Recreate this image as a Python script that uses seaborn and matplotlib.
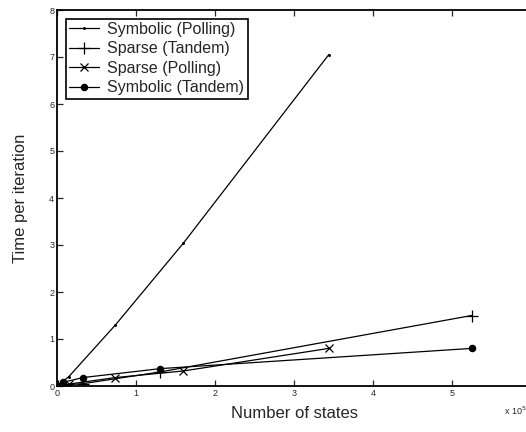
import matplotlib
matplotlib.use("Agg")
import matplotlib.pyplot as plt
import seaborn as sns
import pandas as pd

# number of states, in units of 1e5
polling_states = [0.01, 0.15, 0.74, 1.6, 3.44]
tandem_states = [0.01, 0.08, 0.33, 1.31, 5.25]

symbolic_polling = [0.01, 0.2, 1.3, 3.04, 7.05]
sparse_tandem = [0.0, 0.02, 0.05, 0.3, 1.5]
sparse_polling = [0.0, 0.04, 0.18, 0.32, 0.8]
symbolic_tandem = [0.0, 0.08, 0.18, 0.37, 0.8]

x_tick_labels = ['0', '1', '2', '3', '4', '5', '']

series = [
    ("Symbolic (Polling)", polling_states, symbolic_polling, ".", 2.5),
    ("Sparse (Tandem)", tandem_states, sparse_tandem, "+", 8),
    ("Sparse (Polling)", polling_states, sparse_polling, "x", 6),
    ("Symbolic (Tandem)", tandem_states, symbolic_tandem, "o", 4.5),
]

sns.set_style("ticks")
plt.rcParams['font.family'] = ['Liberation Sans', 'DejaVu Sans']

fig = plt.figure(figsize=(5.26, 4.32), dpi=100)
ax = fig.add_axes([57 / 526, 1 - 386 / 432, 474 / 526, 376 / 432])

for name, xs, ys, mk, ms in series:
    df = pd.DataFrame({'x': xs, 'y': ys})
    sns.lineplot(data=df, x='x', y='y', ax=ax, color='black', lw=0.9,
                 marker=mk, markersize=ms, markeredgewidth=0.9,
                 markerfacecolor='black', markeredgecolor='black',
                 label=name, sort=False)

ax.set_xlim(0, 6)
ax.set_ylim(0, 8)
ax.set_xticks(range(0, 7))
ax.set_xticklabels(x_tick_labels)
ax.set_yticks(range(0, 9))
ax.tick_params(direction='in', labelsize=6.5, length=4, width=0.9,
               top=True, right=False, pad=2)
for s in ax.spines.values():
    s.set_linewidth(1.3)
    s.set_color('black')

ax.set_xlabel('Number of states', fontsize=12, labelpad=6)
ax.set_ylabel('Time per iteration', fontsize=12, labelpad=15)
fig.text(0.958, 0.05, r'x 10$^5$', fontsize=6.5, ha='left', va='center')

leg = ax.legend(loc='upper left', fontsize=11.5, frameon=True, fancybox=False,
                edgecolor='black', framealpha=1, handlelength=1.9,
                borderpad=0.2, labelspacing=0.28, handletextpad=0.5,
                borderaxespad=0.55)
leg.get_frame().set_linewidth(1.2)

fig.savefig('out.png', dpi=100)
